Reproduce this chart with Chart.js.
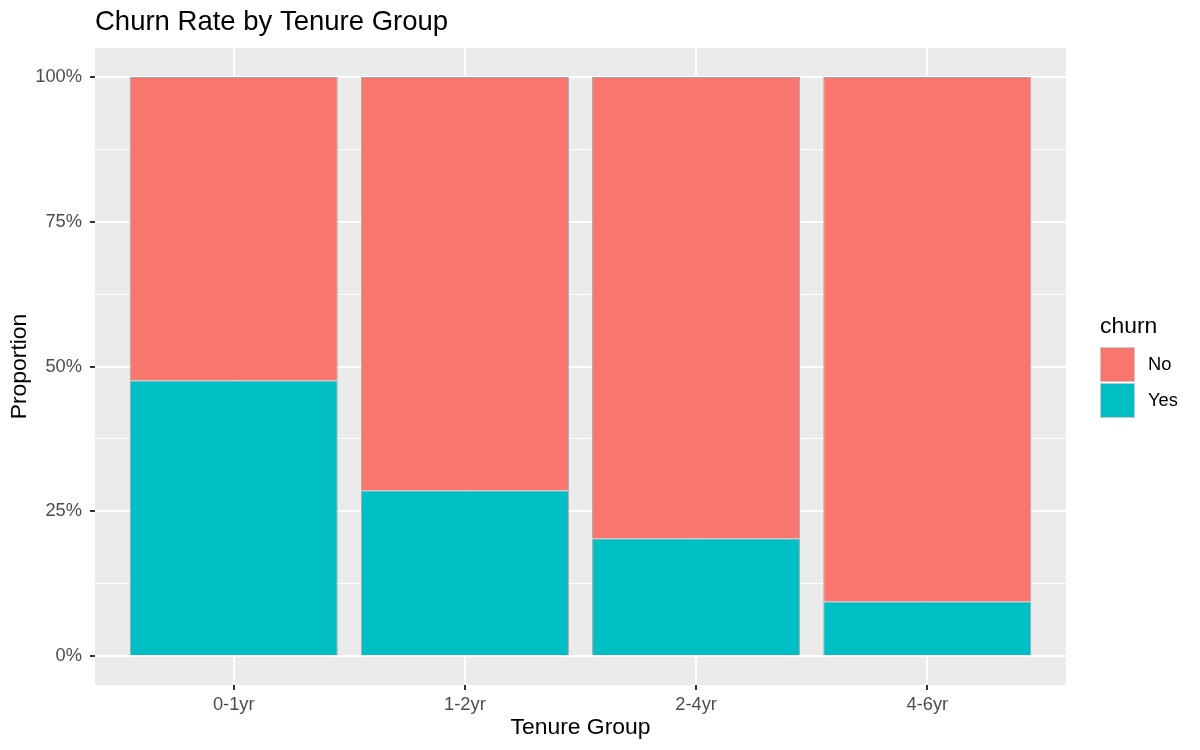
<!DOCTYPE html>
<html>
<head>
<meta charset="utf-8">
<script src="https://cdn.jsdelivr.net/npm/chart.js@4/dist/chart.umd.min.js"></script>
<style>
  html, body { margin: 0; padding: 0; background: #ffffff; }
  canvas { display: block; }
</style>
</head>
<body>
<canvas id="chart" width="1200" height="750"></canvas>
<script>
// Data
const tenureGroups = ['0-1yr', '1-2yr', '2-4yr', '4-6yr'];
const churnYes = [0.476, 0.286, 0.203, 0.094];
const churnNo = [0.524, 0.714, 0.797, 0.906];
const yMajorTicks = [0, 0.25, 0.5, 0.75, 1];
const yMinorTicks = [0.125, 0.375, 0.625, 0.875];

const COLOR_NO = '#F8766D';
const COLOR_YES = '#00BFC4';
const FONT = '"Liberation Sans", Arial, sans-serif';

const isMajor = v => yMajorTicks.some(t => Math.abs(t - v) < 1e-9);

// grey ggplot panel behind everything
const panelBackground = {
    id: 'panelBackground',
    beforeDraw(chart) {
        const { ctx, chartArea: a } = chart;
        ctx.save();
        ctx.fillStyle = '#EBEBEB';
        ctx.fillRect(a.left, a.top, a.right - a.left, a.bottom - a.top);
        ctx.restore();
    }
};

// legend box on the right, ggplot style
const sideLegend = {
    id: 'sideLegend',
    afterDraw(chart) {
        const ctx = chart.ctx;
        const items = [
            { label: 'No', color: COLOR_NO },
            { label: 'Yes', color: COLOR_YES }
        ];
        ctx.save();
        ctx.fillStyle = '#000000';
        ctx.font = '22.9px ' + FONT;
        ctx.textAlign = 'left';
        ctx.textBaseline = 'middle';
        ctx.fillText('churn', 1100, 327);
        items.forEach((item, i) => {
            const y = 347 + i * 36;
            ctx.fillStyle = '#F2F2F2';
            ctx.fillRect(1100, y, 35, 35);
            ctx.fillStyle = item.color;
            ctx.fillRect(1101, y + 1, 33, 33);
            ctx.strokeStyle = '#C8C8C8';
            ctx.lineWidth = 1;
            ctx.strokeRect(1100.5, y + 0.5, 34, 34);
            ctx.fillStyle = '#000000';
            ctx.font = '18.3px ' + FONT;
            ctx.fillText(item.label, 1148, y + 18);
        });
        ctx.restore();
    }
};

const toPoints = vals => vals.map((v, i) => ({ x: i, y: v }));

new Chart(document.getElementById('chart'), {
    type: 'bar',
    data: {
        datasets: [
            {
                label: 'Yes',
                data: toPoints(churnYes),
                backgroundColor: COLOR_YES,
                borderColor: '#A8A8A8',
                borderWidth: 1
            },
            {
                label: 'No',
                data: toPoints(churnNo),
                backgroundColor: COLOR_NO,
                borderColor: '#A8A8A8',
                borderWidth: 1
            }
        ]
    },
    options: {
        responsive: false,
        animation: false,
        devicePixelRatio: 1,
        layout: { padding: { left: 0, right: 134, top: 0, bottom: 0 } },
        datasets: { bar: { categoryPercentage: 0.9, barPercentage: 1 } },
        plugins: {
            legend: { display: false },
            tooltip: { enabled: false },
            title: {
                display: true,
                text: 'Churn Rate by Tenure Group',
                align: 'start',
                fullSize: false,
                color: '#000000',
                font: { family: FONT, size: 27.5, weight: 'normal' },
                padding: { top: 5.5, bottom: 9.5 }
            }
        },
        scales: {
            x: {
                type: 'linear',
                stacked: true,
                offset: false,
                min: -0.6,
                max: 3.6,
                afterBuildTicks: scale => {
                    scale.ticks = tenureGroups.map((g, i) => ({ value: i }));
                },
                afterFit: scale => { scale.height = 65; },
                border: { display: false },
                grid: {
                    offset: false,
                    color: '#FFFFFF',
                    lineWidth: 2,
                    drawTicks: true,
                    tickLength: 5,
                    tickColor: '#333333',
                    tickWidth: 2
                },
                ticks: {
                    autoSkip: false,
                    maxRotation: 0,
                    padding: 4,
                    color: '#4D4D4D',
                    font: { family: FONT, size: 18.3 },
                    callback: v => tenureGroups[v]
                },
                title: {
                    display: true,
                    text: 'Tenure Group',
                    color: '#000000',
                    font: { family: FONT, size: 22.9 },
                    padding: { top: 0, bottom: 8.3 }
                }
            },
            y: {
                stacked: true,
                min: -0.05,
                max: 1.05,
                afterBuildTicks: scale => {
                    scale.ticks = yMajorTicks.concat(yMinorTicks)
                        .sort((a, b) => a - b)
                        .map(v => ({ value: v }));
                },
                afterFit: scale => { scale.width = 95; },
                border: { display: false },
                grid: {
                    color: '#FFFFFF',
                    lineWidth: ctx => isMajor(ctx.tick.value) ? 2 : 1,
                    drawTicks: true,
                    tickLength: 5,
                    tickColor: ctx => isMajor(ctx.tick.value) ? '#333333' : 'rgba(0,0,0,0)',
                    tickWidth: 2
                },
                ticks: {
                    autoSkip: false,
                    padding: 8,
                    color: '#4D4D4D',
                    font: { family: FONT, size: 18.3 },
                    callback: v => isMajor(v) ? Math.round(v * 100) + '%' : ''
                },
                title: {
                    display: true,
                    text: 'Proportion',
                    color: '#000000',
                    font: { family: FONT, size: 22.9 },
                    padding: { top: 6.3, bottom: 0 }
                }
            }
        }
    },
    plugins: [panelBackground, sideLegend]
});
</script>
</body>
</html>
